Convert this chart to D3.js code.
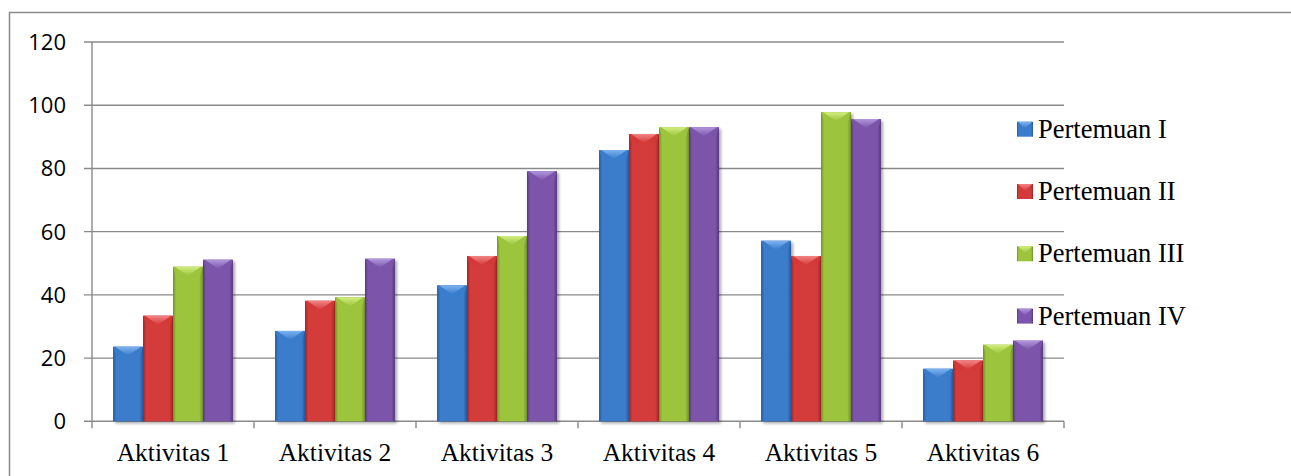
<!DOCTYPE html>
<html><head><meta charset="utf-8">
<script src="https://cdn.jsdelivr.net/npm/d3@7/dist/d3.min.js"></script>
<style>html,body{margin:0;padding:0;background:#fff;overflow:hidden}</style>
</head><body>
<svg id="c" width="1291" height="476"></svg>
<script>
const categories = ["Aktivitas 1","Aktivitas 2","Aktivitas 3","Aktivitas 4","Aktivitas 5","Aktivitas 6"];
const seriesNames = ["Pertemuan I","Pertemuan II","Pertemuan III","Pertemuan IV"];
const pertemuan1 = [23.6, 28.6, 43.0, 85.8, 57.1, 16.6];
const pertemuan2 = [33.4, 38.1, 52.3, 90.9, 52.3, 19.2];
const pertemuan3 = [48.9, 39.2, 58.6, 93.0, 97.8, 24.2];
const pertemuan4 = [51.1, 51.4, 79.1, 93.0, 95.6, 25.5];
const yTicks = [0, 20, 40, 60, 80, 100, 120];
const seriesValues = [pertemuan1, pertemuan2, pertemuan3, pertemuan4];
const colors = [
  {base:"#3a7ccb", dark:"#25589a", light:"#7db2f0"},
  {base:"#d43a3a", dark:"#9c2424", light:"#f28484"},
  {base:"#9cc43c", dark:"#6f9125", light:"#d2ee80"},
  {base:"#7b55ab", dark:"#55367e", light:"#b296dc"}
];

const svg = d3.select("#c");
const pLeft = 92, pRight = 1064, pTop = 42, pBottom = 421.3;

// outer frame
svg.append("rect").attr("x",9.5).attr("y",12.5).attr("width",1300).attr("height",500)
  .attr("fill","none").attr("stroke","#8a8a8a").attr("stroke-width",1.5);

const x0 = d3.scaleBand().domain(categories).range([pLeft, pRight]).padding(0);
const gap = x0.bandwidth()*0.13;
const x1 = d3.scaleBand().domain(d3.range(seriesNames.length)).range([gap, x0.bandwidth()-gap]).padding(0);
const y = d3.scaleLinear().domain([0,120]).range([pBottom, pTop]);

const defs = svg.append("defs");
colors.forEach((c,i)=>{
  const g = defs.append("linearGradient").attr("id","g"+i).attr("x1","0").attr("x2","1").attr("y1","0").attr("y2","0");
  g.append("stop").attr("offset","0").attr("stop-color",c.dark);
  g.append("stop").attr("offset","0.1").attr("stop-color",c.base);
  g.append("stop").attr("offset","0.5").attr("stop-color",c.base);
  g.append("stop").attr("offset","0.88").attr("stop-color",c.base);
  g.append("stop").attr("offset","1").attr("stop-color",c.dark);
  const t = defs.append("linearGradient").attr("id","t"+i).attr("x1","0").attr("x2","0").attr("y1","0").attr("y2","1");
  t.append("stop").attr("offset","0").attr("stop-color",c.light);
  t.append("stop").attr("offset","1").attr("stop-color",c.base);
});
const shadow = defs.append("filter").attr("id","sh").attr("x","-20%").attr("y","-5%").attr("width","140%").attr("height","115%");
shadow.append("feGaussianBlur").attr("in","SourceAlpha").attr("stdDeviation",1.5);
shadow.append("feOffset").attr("dx",1.5).attr("dy",1.5).attr("result","b");
shadow.append("feComponentTransfer").append("feFuncA").attr("type","linear").attr("slope",0.35);
const m = shadow.append("feMerge"); m.append("feMergeNode"); m.append("feMergeNode").attr("in","SourceGraphic");

// gridlines
const grid = svg.append("g");
yTicks.forEach(t=>{
  grid.append("line").attr("x1",pLeft-8).attr("x2",pRight).attr("y1",y(t)).attr("y2",y(t))
    .attr("stroke","#8a8a8a").attr("stroke-width",1.4);
});
// y axis line
svg.append("line").attr("x1",pLeft).attr("x2",pLeft).attr("y1",pTop).attr("y2",pBottom+7)
  .attr("stroke","#8a8a8a").attr("stroke-width",1.4);
// x ticks
categories.forEach((c,i)=>{
  const xx = x0(c) + x0.bandwidth();
  svg.append("line").attr("x1",xx).attr("x2",xx).attr("y1",pBottom).attr("y2",pBottom+7)
    .attr("stroke","#8a8a8a").attr("stroke-width",1.4);
});

// y labels
svg.append("g").selectAll("text").data(yTicks).join("text")
  .attr("x",66).attr("y",d=>y(d)).attr("dy","0.36em").attr("text-anchor","end")
  .attr("font-family","'Open Sans'").attr("font-size",22).attr("fill","#000").text(d=>d);

// bars
const bars = svg.append("g");
categories.forEach((c,ci)=>{
  seriesValues.forEach((vals,si)=>{
    const v = vals[ci];
    const bx = x0(c)+x1(si), bw = x1.bandwidth(), by = y(v), bh = pBottom - by;
    const g = bars.append("g").attr("filter","url(#sh)");
    g.append("rect").attr("x",bx).attr("y",by).attr("width",bw).attr("height",bh).attr("fill","url(#g"+si+")");
    const bev = Math.min(9, bh/2);
    g.append("path").attr("d",`M${bx},${by}L${bx+bw},${by}L${bx+bw-3},${by+bev}L${bx+3},${by+bev}Z`)
      .attr("fill",colors[si].base).attr("opacity",0.9);
    g.append("path").attr("d",`M${bx+2},${by}L${bx+bw-2},${by}L${bx+bw/2},${by+bev}Z`)
      .attr("fill","url(#t"+si+")");
  });
});

// x labels
svg.append("g").selectAll("text").data(categories).join("text")
  .attr("x",d=>x0(d)+x0.bandwidth()/2).attr("y",461).attr("text-anchor","middle")
  .attr("font-family","'Liberation Serif'").attr("font-size",25.5).attr("fill","#000").text(d=>d);

// legend
const lg = svg.append("g");
seriesNames.forEach((s,i)=>{
  const by = 137.7 + i*62.3;
  const g = lg.append("g");
  g.append("rect").attr("x",1017).attr("y",by-16).attr("width",16).attr("height",15).attr("fill","url(#g"+i+")");
  g.append("path").attr("d",`M1018,${by-16}L1032,${by-16}L1025,${by-9}Z`).attr("fill","url(#t"+i+")");
  g.append("text").attr("x",1038).attr("y",by).attr("font-family","'Liberation Serif'")
    .attr("font-size",26.5).attr("fill","#000").text(s);
});
</script>
</body></html>
